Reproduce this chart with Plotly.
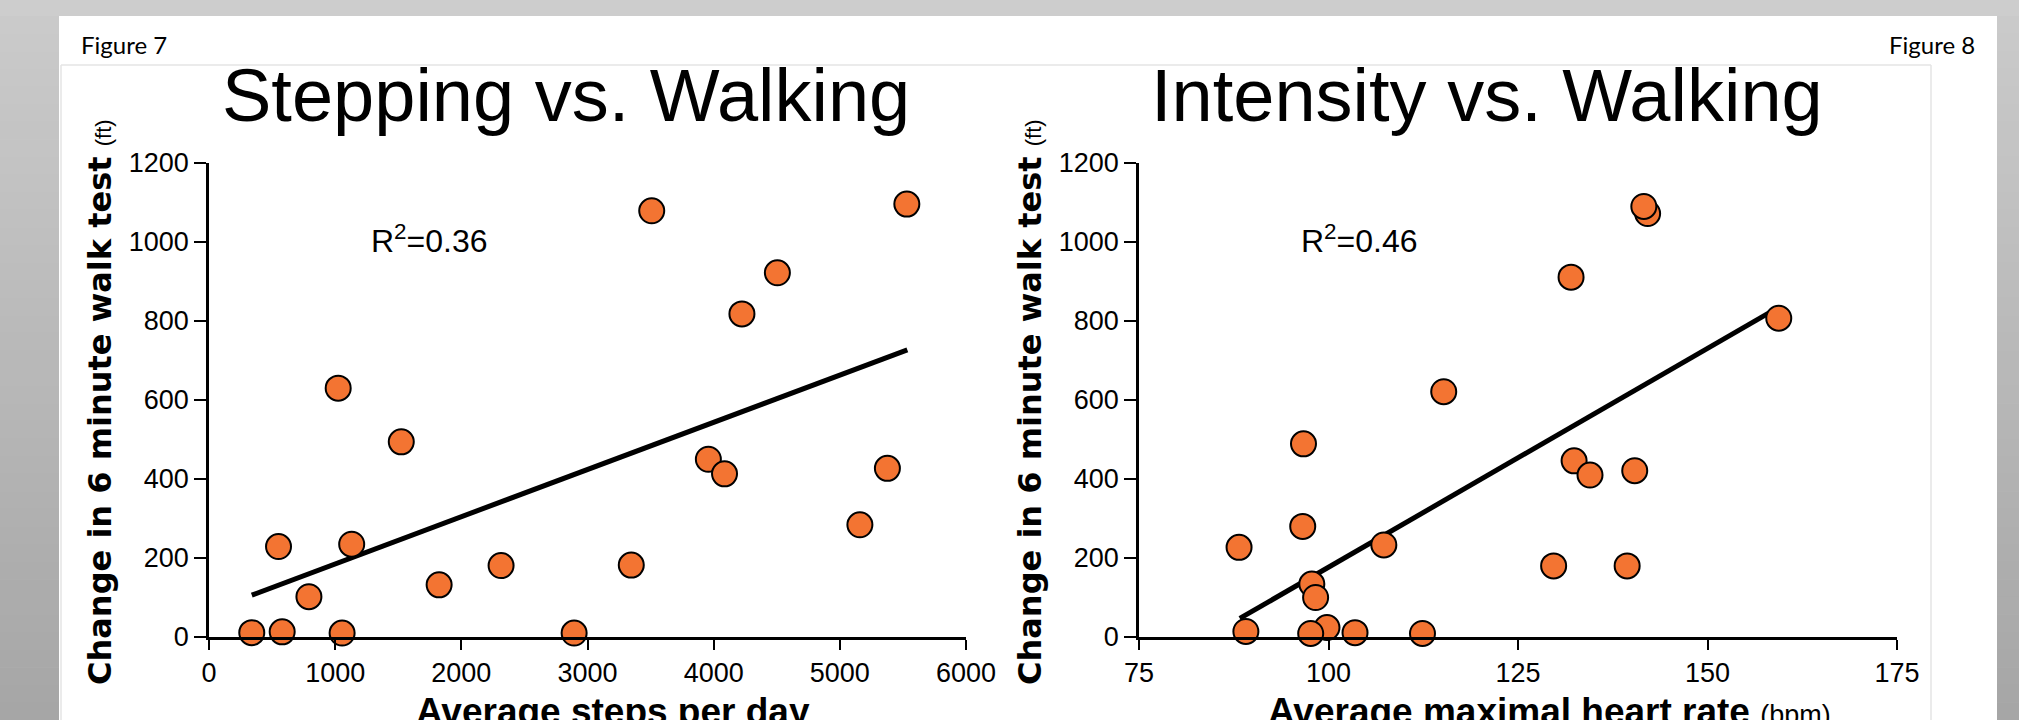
import plotly.graph_objects as go

# ---------------- data ----------------
steps_per_day = [1024, 1524, 551, 1131, 792, 339, 580, 1055, 2894, 1824,
                 2315, 3347, 3958, 4086, 5377, 5159, 3509, 5531, 4505, 4224]
change_steps = [630, 494, 229, 235, 102, 11, 13, 10, 10, 132,
                181, 182, 450, 413, 427, 284, 1079, 1096, 922, 818]

max_heart_rate = [115.2, 96.7, 96.6, 88.2, 107.3, 97.8, 98.3, 89.1, 99.8, 97.65,
                  103.5, 112.4, 129.7, 139.4, 132.4, 134.5, 140.4, 142.1, 141.6, 132.0, 159.4]
change_hr = [621, 489, 280, 227, 233, 134, 100, 14, 24, 9,
             11, 9, 180, 180, 446, 410, 421, 1072, 1090, 911, 807]

fit_steps_x = [339, 5535]
fit_steps_y = [106, 727]
fit_hr_x = [88.3, 158.8]
fit_hr_y = [47, 828]

steps_ticks = [0, 1000, 2000, 3000, 4000, 5000, 6000]
hr_ticks = [75, 100, 125, 150, 175]
change_ticks = [0, 200, 400, 600, 800, 1000, 1200]

titles = ["Stepping vs. Walking", "Intensity vs. Walking"]
r2_labels = ["R<sup>2</sup>=0.36", "R<sup>2</sup>=0.46"]
x_titles = ["<b>Average steps per day</b>",
            "<b>Average maximal heart rate</b> <span style='font-weight:normal;font-size:27px'>(bpm)</span>"]
y_title = ("<b>Change in 6 minute walk test</b> "
           "<span style='font-family:Liberation Sans;font-weight:normal;font-size:22px'>(ft)</span>")
fig_labels = ["Figure 7", "Figure 8"]

# ---------------- geometry helpers ----------------
W, H = 2019, 720


def px(x):
    return x / W


def py(y):
    return 1 - y / H


ORANGE = "#F37432"
ARIAL = "Liberation Sans, Arial, sans-serif"

fig = go.Figure()

fig.add_trace(go.Scatter(x=fit_steps_x, y=fit_steps_y, mode="lines",
                         line=dict(color="black", width=5), xaxis="x", yaxis="y",
                         cliponaxis=False, hoverinfo="skip"))
fig.add_trace(go.Scatter(x=steps_per_day, y=change_steps, mode="markers",
                         marker=dict(size=25, color=ORANGE, line=dict(color="black", width=2)),
                         xaxis="x", yaxis="y", cliponaxis=False))
fig.add_trace(go.Scatter(x=fit_hr_x, y=fit_hr_y, mode="lines",
                         line=dict(color="black", width=5), xaxis="x2", yaxis="y2",
                         cliponaxis=False, hoverinfo="skip"))
fig.add_trace(go.Scatter(x=max_heart_rate, y=change_hr, mode="markers",
                         marker=dict(size=25, color=ORANGE, line=dict(color="black", width=2)),
                         xaxis="x2", yaxis="y2", cliponaxis=False))

axis_common = dict(showline=True, linecolor="black", linewidth=2.5, ticks="outside",
                   tickwidth=2, tickcolor="black", showgrid=False, zeroline=False,
                   automargin=False,
                   tickfont=dict(family=ARIAL, size=27, color="black"))

y_dom = [py(637), py(163)]
fig.update_layout(
    template="none",
    width=W, height=H, autosize=False,
    margin=dict(l=0, r=0, t=0, b=0, pad=0, autoexpand=False),
    paper_bgcolor="#cdcdcd", plot_bgcolor="rgba(0,0,0,0)", showlegend=False,
    xaxis=dict(domain=[px(209), px(966)], range=[0, 6000], tickvals=steps_ticks,
               ticklen=10, anchor="y", **axis_common),
    yaxis=dict(domain=y_dom, range=[0, 1200], tickvals=change_ticks,
               ticklen=12, anchor="x", **axis_common),
    xaxis2=dict(domain=[px(1139), px(1897)], range=[75, 175], tickvals=hr_ticks,
                ticklen=10, anchor="y2", **axis_common),
    yaxis2=dict(domain=y_dom, range=[0, 1200], tickvals=change_ticks,
                ticklen=12, anchor="x2", **axis_common),
)

# ---------------- background (slide) ----------------
shapes = []
n = 40
top, bottom = 16, 720
c0, c1 = 0xCA, 0xA6
for i in range(n):
    y0 = top + (bottom - top) * i / n
    y1 = top + (bottom - top) * (i + 1) / n + 0.5
    g = int(round(c0 + (c1 - c0) * i / (n - 1)))
    col = f"rgb({g},{g},{g})"
    shapes.append(dict(type="rect", xref="paper", yref="paper", x0=0, x1=px(59),
                       y0=py(y1), y1=py(y0), fillcolor=col, line=dict(width=0), layer="below"))
    shapes.append(dict(type="rect", xref="paper", yref="paper", x0=px(1997), x1=1,
                       y0=py(y1), y1=py(y0), fillcolor=col, line=dict(width=0), layer="below"))
shapes.append(dict(type="rect", xref="paper", yref="paper", x0=px(59), x1=px(1997),
                   y0=0, y1=py(16), fillcolor="white", line=dict(width=0), layer="below"))
shapes.append(dict(type="line", xref="paper", yref="paper", x0=px(61), x1=px(1931),
                   y0=py(65), y1=py(65), line=dict(color="#e4e4e4", width=1.5), layer="below"))
shapes.append(dict(type="line", xref="paper", yref="paper", x0=px(61), x1=px(61),
                   y0=0, y1=py(65), line=dict(color="#e4e4e4", width=1.5), layer="below"))
shapes.append(dict(type="line", xref="paper", yref="paper", x0=px(1931), x1=px(1931),
                   y0=0, y1=py(65), line=dict(color="#e4e4e4", width=1.5), layer="below"))
fig.update_layout(shapes=shapes)

# ---------------- text ----------------
ann = []
ann.append(dict(text=fig_labels[0], x=px(79), y=py(44), xref="paper", yref="paper",
                xanchor="left", yanchor="middle", showarrow=False,
                font=dict(family="Lato, Carlito, sans-serif", size=24, color="black")))
ann.append(dict(text=fig_labels[1], x=px(1977), y=py(44), xref="paper", yref="paper",
                xanchor="right", yanchor="middle", showarrow=False,
                font=dict(family="Lato, Carlito, sans-serif", size=24, color="black")))
for title, x0 in zip(titles, [220, 1149]):
    ann.append(dict(text=title, x=px(x0), y=py(96), xref="paper", yref="paper",
                    xanchor="left", yanchor="middle", showarrow=False,
                    font=dict(family=ARIAL, size=74, color="black")))
for lab, xc in zip(r2_labels, [429, 1359]):
    ann.append(dict(text=lab, x=px(xc), y=py(239), xref="paper", yref="paper",
                    xanchor="center", yanchor="middle", showarrow=False,
                    font=dict(family=ARIAL, size=32, color="black")))
for xc in [100, 1030]:
    ann.append(dict(text=y_title, x=px(xc), y=py(402), xref="paper", yref="paper",
                    xanchor="center", yanchor="middle", textangle=-90, showarrow=False,
                    font=dict(family="DejaVu Sans, sans-serif", size=32, color="black")))
for lab, xc in zip(x_titles, [613, 1549]):
    ann.append(dict(text=lab, x=px(xc), y=py(711), xref="paper", yref="paper",
                    xanchor="center", yanchor="middle", showarrow=False,
                    font=dict(family=ARIAL, size=37, color="black")))
fig.update_layout(annotations=ann)

fig.write_html(
    "out.html",
    config={"displayModeBar": False},
    post_script="document.body.style.margin='0';document.body.style.overflow='hidden';",
)
